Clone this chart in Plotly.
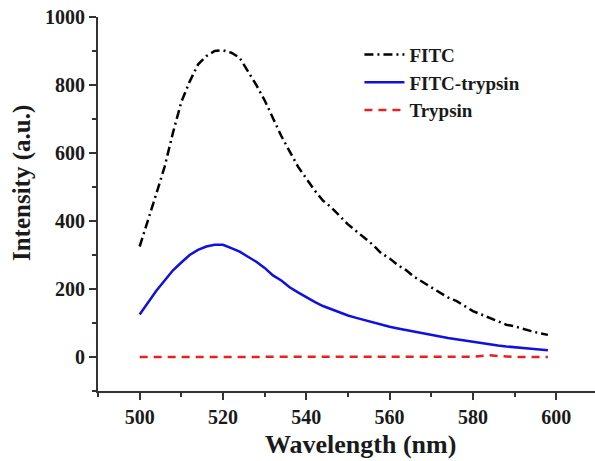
import plotly.graph_objects as go

wavelength = list(range(500, 600, 2))

fitc = [325, 400, 480, 560, 660, 750, 810, 860, 885, 900,
        902, 895, 880, 840, 800, 755, 700, 650, 605, 560,
        525, 490, 460, 440, 415, 390, 370, 350, 330, 305,
        290, 270, 255, 235, 220, 205, 190, 175, 165, 150,
        135, 125, 115, 105, 95, 90, 82, 76, 70, 65]

fitc_trypsin = [125, 160, 195, 225, 255, 278, 300, 315, 325, 330,
                330, 320, 310, 295, 280, 262, 240, 225, 205, 190,
                175, 162, 150, 140, 130, 122, 115, 108, 101, 95,
                89, 84, 79, 74, 70, 65, 61, 56, 52, 48,
                44, 40, 37, 34, 31, 28, 26, 24, 22, 20]

trypsin = [0, 0, 0, 0, 0, 0, 0, 0, 0, 0,
           0, 0, 0, 0, 0, 0, 0, 0, 0, 0,
           0, 0, 0, 0, 0, 0, 0, 0, 0, 0,
           0, 0, 0, 0, 0, 0, 0, 0, 0, 0,
           1, 3, 5, 3, 1, 0, 0, 0, 0, 0]

x_ticks = [500, 520, 540, 560, 580, 600]
y_ticks = [0, 200, 400, 600, 800, 1000]

font_family = "Liberation Serif"
ink = "#1a1a1a"

fig = go.Figure()
fig.add_trace(go.Scatter(x=wavelength, y=fitc, mode="lines", name="<b>FITC</b>",
                         line=dict(color="black", width=2.5, dash="9px,4px,2px,4px")))
fig.add_trace(go.Scatter(x=wavelength, y=fitc_trypsin, mode="lines", name="<b>FITC-trypsin</b>",
                         line=dict(color="#1010e0", width=2.5)))
fig.add_trace(go.Scatter(x=wavelength, y=trypsin, mode="lines", name="<b>Trypsin</b>",
                         line=dict(color="#e82020", width=2.5, dash="8px,6px")))

fig.update_layout(
    width=595, height=461,
    margin=dict(l=98, r=0, t=17, b=70),
    paper_bgcolor="white", plot_bgcolor="white",
    font=dict(family=font_family, color=ink, size=20),
    showlegend=True,
    legend=dict(x=0.526, y=0.95, xanchor="left", yanchor="top",
                font=dict(family=font_family, size=19, color=ink),
                bgcolor="rgba(0,0,0,0)", tracegroupgap=0, itemwidth=40),
    xaxis=dict(range=[490, 609.3], tickvals=x_ticks,
               ticktext=[f"<b>{v}</b>" for v in x_ticks],
               tickfont=dict(size=20, family=font_family, color=ink),
               showline=True, linecolor="#333", linewidth=2,
               ticks="outside", ticklen=7, tickwidth=2, tickcolor="#333",
               minor=dict(dtick=10, ticks="outside", ticklen=4, tickwidth=2, tickcolor="#333"),
               showgrid=False, zeroline=False),
    yaxis=dict(range=[-100, 1000], tickvals=y_ticks,
               ticktext=[f"<b>{v}</b>" for v in y_ticks],
               tickfont=dict(size=20, family=font_family, color=ink),
               showline=True, linecolor="#333", linewidth=2,
               ticks="outside", ticklen=7, tickwidth=2, tickcolor="#333",
               minor=dict(dtick=100, tick0=0, ticks="outside", ticklen=4, tickwidth=2, tickcolor="#333"),
               showgrid=False, zeroline=False),
    annotations=[
        dict(text="<b>Wavelength (nm)</b>", xref="paper", yref="paper",
             x=0.529, y=-0.144, xanchor="center", yanchor="middle", showarrow=False,
             font=dict(size=26, family=font_family, color=ink)),
        dict(text="<b>Intensity (a.u.)</b>", xref="paper", yref="paper",
             x=-0.153, y=0.556, xanchor="center", yanchor="middle", showarrow=False,
             textangle=-90, font=dict(size=25, family=font_family, color=ink)),
    ],
)

fig.write_html("out.html")
